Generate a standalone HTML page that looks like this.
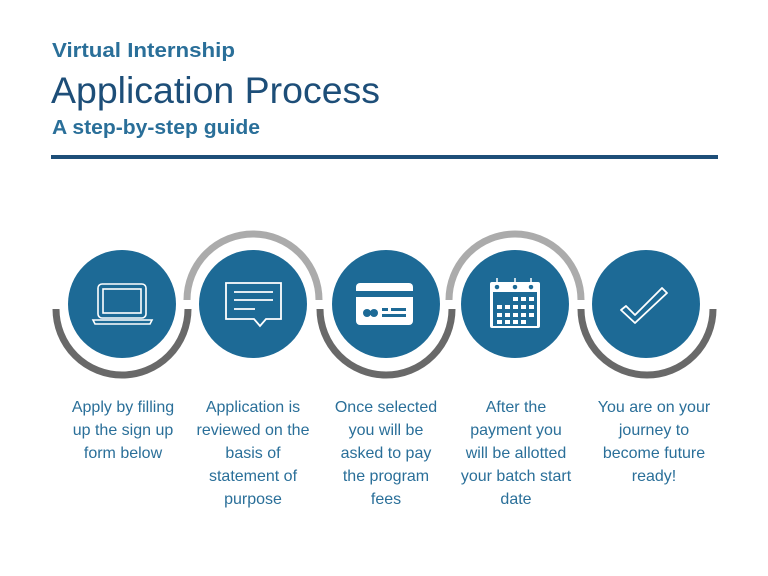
<!DOCTYPE html>
<html><head><style>
html,body{margin:0;padding:0;background:#fff;width:768px;height:576px;overflow:hidden}
svg text{font-family:"Liberation Sans",sans-serif}
</style></head><body>
<svg width="768" height="576" viewBox="0 0 768 576" xmlns="http://www.w3.org/2000/svg">
<text x="52" y="57" font-size="20" font-weight="bold" fill="#2a6f99" textLength="183" lengthAdjust="spacingAndGlyphs">Virtual Internship</text>
<text x="51" y="103" font-size="37" fill="#1d4e78" textLength="329" lengthAdjust="spacingAndGlyphs">Application Process</text>
<text x="52" y="134" font-size="20" font-weight="bold" fill="#2a6f99" textLength="208" lengthAdjust="spacingAndGlyphs">A step-by-step guide</text>
<rect x="51" y="155" width="667" height="4" fill="#1d4e78"/>

<g fill="none" stroke-width="7">
<path d="M56 309 A66 66 0 0 0 188 309" stroke="#696969"/>
<path d="M320 309 A66 66 0 0 0 452 309" stroke="#696969"/>
<path d="M581 309 A66 66 0 0 0 713 309" stroke="#696969"/>
<path d="M187 300 A66 66 0 0 1 319 300" stroke="#ababab"/>
<path d="M449 300 A66 66 0 0 1 581 300" stroke="#ababab"/>
</g>
<g fill="#1d6a96">
<circle cx="122" cy="304" r="54"/>
<circle cx="253" cy="304" r="54"/>
<circle cx="386" cy="304" r="54"/>
<circle cx="515" cy="304" r="54"/>
<circle cx="646" cy="304" r="54"/>
</g>
<g fill="none" stroke="#fff" stroke-width="1.6">
<rect x="98" y="284" width="48" height="34" rx="4"/>
<rect x="103" y="289" width="38" height="24"/>
<path d="M93 320 H152 L150 324 H95 Z"/>
</g>
<g fill="none" stroke="#fff" stroke-width="1.8">
<path d="M226 283 H281 V319 H266 L260 326 L254 319 H226 Z"/>
<path d="M234 292 H273 M234 300 H273 M234 309 H255"/>
</g>
<g fill="#fff">
<rect x="356" y="283" width="57" height="42" rx="4"/>
</g>
<rect x="356" y="291" width="57" height="6" fill="#1d6a96"/>
<circle cx="367" cy="313" r="4" fill="#1d6a96"/>
<circle cx="374" cy="313" r="4" fill="#1d6a96"/>
<rect x="382" y="308" width="6" height="3" fill="#1d6a96"/>
<rect x="391" y="308" width="15" height="3" fill="#1d6a96"/>
<rect x="382" y="314" width="24" height="3" fill="#1d6a96"/>
<rect x="490" y="282" width="50" height="46" rx="2" fill="#fff"/>
<rect x="493" y="292" width="44" height="34" fill="#1d6a96"/>
<g fill="#fff">
<rect x="513" y="297" width="5" height="4"/><rect x="521" y="297" width="5" height="4"/><rect x="529" y="297" width="5" height="4"/>
<rect x="497" y="305" width="5" height="4"/><rect x="505" y="305" width="5" height="4"/><rect x="513" y="305" width="5" height="4"/><rect x="521" y="305" width="5" height="4"/><rect x="529" y="305" width="5" height="4"/>
<rect x="497" y="313" width="5" height="4"/><rect x="505" y="313" width="5" height="4"/><rect x="513" y="313" width="5" height="4"/><rect x="521" y="313" width="5" height="4"/><rect x="529" y="313" width="5" height="4"/>
<rect x="497" y="320" width="5" height="4"/><rect x="505" y="320" width="5" height="4"/><rect x="513" y="320" width="5" height="4"/><rect x="521" y="320" width="5" height="4"/>
</g>
<g fill="#1d6a96" stroke="#fff" stroke-width="1.5">
<circle cx="497" cy="287" r="3"/><circle cx="515" cy="287" r="3"/><circle cx="531" cy="287" r="3"/>
</g>
<g stroke="#fff" stroke-width="1.5"><path d="M497 278 V285 M515 278 V285 M531 278 V285"/></g>
<path d="M626 306 L635 315 L662 288 L667 293 L635 323 L621 310 Z" fill="none" stroke="#fff" stroke-width="1.8" stroke-linejoin="round"/>

<g font-size="16" fill="#2a6f99" text-anchor="middle">
<text x="123" y="412">Apply by filling</text>
<text x="123" y="435">up the sign up</text>
<text x="123" y="458">form below</text>
<text x="253" y="412">Application is</text>
<text x="253" y="435">reviewed on the</text>
<text x="253" y="458">basis of</text>
<text x="253" y="481">statement of</text>
<text x="253" y="504">purpose</text>
<text x="386" y="412">Once selected</text>
<text x="386" y="435">you will be</text>
<text x="386" y="458">asked to pay</text>
<text x="386" y="481">the program</text>
<text x="386" y="504">fees</text>
<text x="516" y="412">After the</text>
<text x="516" y="435">payment you</text>
<text x="516" y="458">will be allotted</text>
<text x="516" y="481">your batch start</text>
<text x="516" y="504">date</text>
<text x="654" y="412">You are on your</text>
<text x="654" y="435">journey to</text>
<text x="654" y="458">become future</text>
<text x="654" y="481">ready!</text>
</g>
</svg>
</body></html>
